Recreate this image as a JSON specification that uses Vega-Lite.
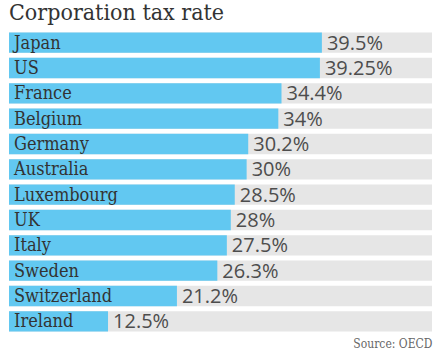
{
  "$schema": "https://vega.github.io/schema/vega-lite/v6.json",
  "width": 423,
  "height": 304,
  "autosize": "none",
  "padding": {"left": 9, "top": 30, "right": 8, "bottom": 18},
  "background": "white",
  "title": {"text": "Corporation tax rate", "anchor": "start", "frame": "group", "font": "DejaVu Serif Condensed", "fontSize": 23, "fontWeight": "normal", "color": "#333333", "offset": 5, "dx": 0},
  "data": {"values": [
    {"country": "Japan", "rate": 39.5, "label": "39.5%"},
    {"country": "US", "rate": 39.25, "label": "39.25%"},
    {"country": "France", "rate": 34.4, "label": "34.4%"},
    {"country": "Belgium", "rate": 34, "label": "34%"},
    {"country": "Germany", "rate": 30.2, "label": "30.2%"},
    {"country": "Australia", "rate": 30, "label": "30%"},
    {"country": "Luxembourg", "rate": 28.5, "label": "28.5%"},
    {"country": "UK", "rate": 28, "label": "28%"},
    {"country": "Italy", "rate": 27.5, "label": "27.5%"},
    {"country": "Sweden", "rate": 26.3, "label": "26.3%"},
    {"country": "Switzerland", "rate": 21.2, "label": "21.2%"},
    {"country": "Ireland", "rate": 12.5, "label": "12.5%"}
  ]},
  "encoding": {
    "y": {"field": "country", "type": "nominal", "sort": null, "scale": {"paddingInner": 0.2, "paddingOuter": 0.1}, "axis": null}
  },
  "layer": [
    {"mark": {"type": "bar", "color": "#e6e6e6"},
     "encoding": {"x": {"datum": 53.4, "type": "quantitative", "scale": {"domain": [0, 53.4], "nice": false},
       "axis": {"title": "Source: OECD", "titleAnchor": "end", "titleAlign": "right", "titleFont": "DejaVu Serif Condensed", "titleFontSize": 12, "titleFontWeight": "normal", "titleColor": "#666666", "labels": false, "ticks": false, "domain": false, "grid": false, "titlePadding": 4}},
       "x2": {"datum": 0}}},
    {"mark": {"type": "bar", "color": "#62c8f1"},
     "encoding": {"x": {"field": "rate", "type": "quantitative"}}},
    {"mark": {"type": "text", "align": "left", "baseline": "middle", "dx": 5, "dy": 1, "font": "DejaVu Serif Condensed", "fontSize": 18, "color": "#333333"},
     "encoding": {"x": {"datum": 0}, "text": {"field": "country"}}},
    {"mark": {"type": "text", "align": "left", "baseline": "middle", "dx": 5, "dy": 1, "font": "Open Sans", "fontSize": 20, "color": "#4d4d4d"},
     "encoding": {"x": {"field": "rate", "type": "quantitative"}, "text": {"field": "label"}}}
  ],
  "config": {"view": {"stroke": null}}
}
